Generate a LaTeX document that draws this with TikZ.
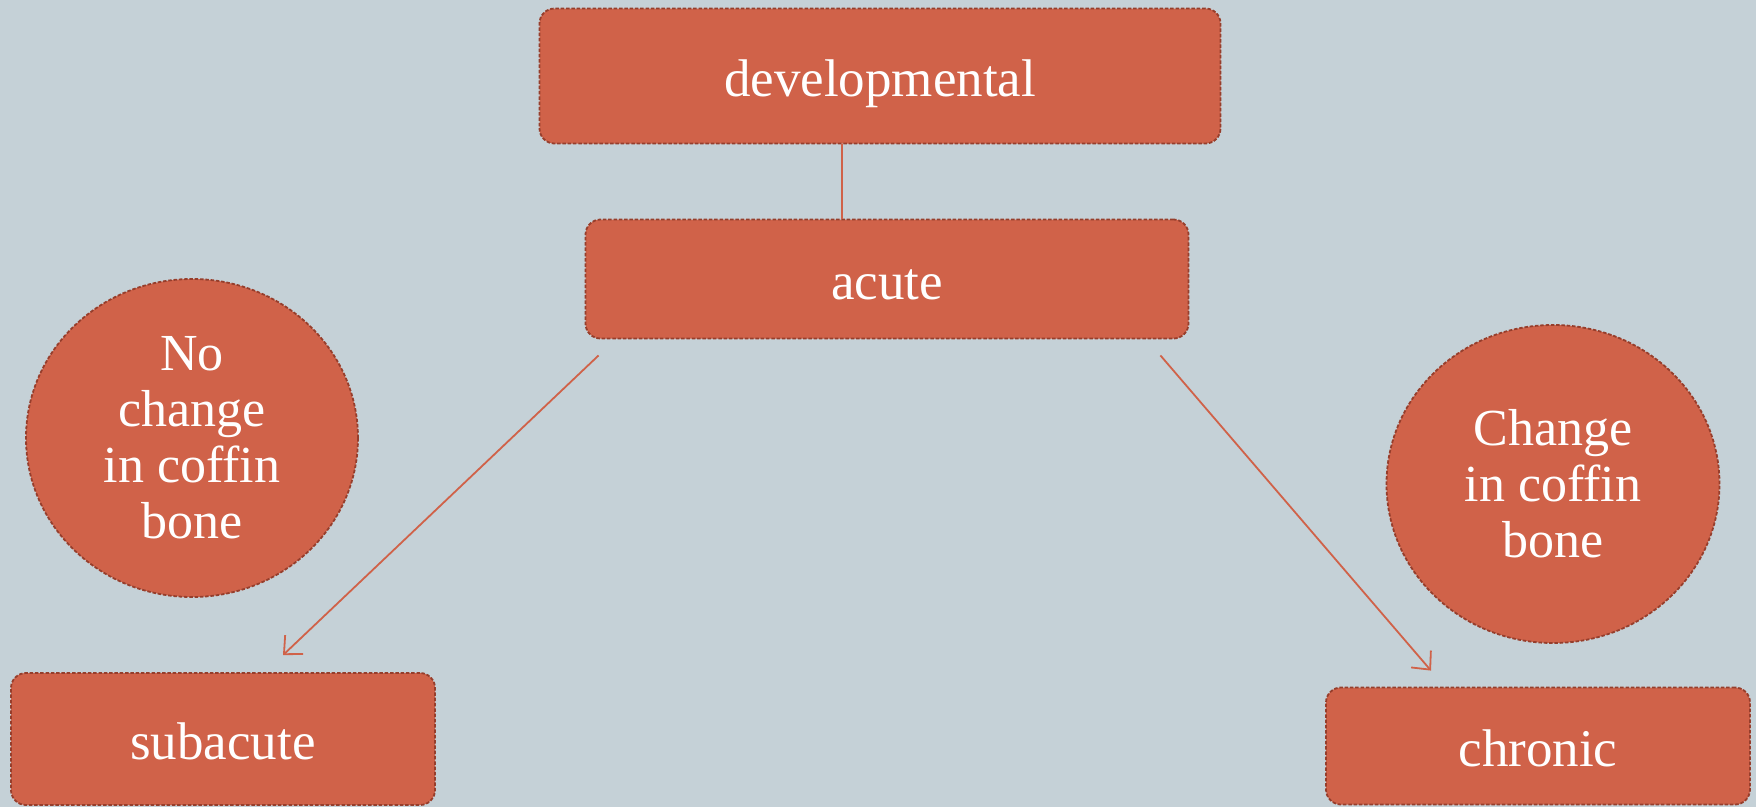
\documentclass[tikz,border=0pt]{standalone}
\usepackage{fontspec}
\setmainfont{Liberation Serif}
\usetikzlibrary{arrows.meta,shapes.geometric}
\definecolor{bgc}{RGB}{197,209,215}
\definecolor{boxfill}{RGB}{208,98,73}
\definecolor{boxline}{RGB}{150,62,44}
\tikzset{
  box/.style={rectangle, rounded corners=15pt, fill=boxfill, draw=boxline,
    line width=1.8pt, dash pattern=on 3.5pt off 1.8pt, text=white, inner sep=0pt,
    font=\fontsize{53}{56}\selectfont, align=center, text height=40pt, text depth=0pt},
  blob/.style={ellipse, fill=boxfill, draw=boxline, line width=1.8pt,
    dash pattern=on 3.5pt off 1.8pt, text=white, inner sep=0pt,
    font=\fontsize{52}{56}\selectfont, align=center},
  link/.style={draw=boxfill, line width=1.8pt},
  arr/.style={link, -{Straight Barb[length=14pt,width=26pt,line width=1.8pt]}}
}
\begin{document}
\begin{tikzpicture}[x=1pt,y=-1pt]
\fill[bgc] (0,0) rectangle (1756,807);
\useasboundingbox (0,0) rectangle (1756,807);
\node[box, minimum width=681pt, minimum height=135pt] (dev) at (880,76) {developmental};
\node[box, minimum width=603pt, minimum height=119pt] (acute) at (887,279) {acute};
\node[box, minimum width=424pt, minimum height=132pt] (sub) at (223,739) {subacute};
\node[box, minimum width=424pt, minimum height=117pt] (chr) at (1538,746) {chronic};
\node[blob, minimum width=332pt, minimum height=318pt] (nochg) at (192,438) {No\\change\\in coffin\\bone};
\node[blob, minimum width=333pt, minimum height=318pt] (chg) at (1553,484) {Change\\in coffin\\bone};
\draw[link] (dev.south -| 842,0) -- (acute.north -| 842,0);
\coordinate (aL) at ([xshift=14pt,yshift=-16pt]acute.south west);
\coordinate (aR) at ([xshift=-29pt,yshift=-16pt]acute.south east);
\coordinate (eL) at ([xshift=60pt,yshift=17pt]sub.north);
\coordinate (eR) at ([xshift=-107pt,yshift=16pt]chr.north);
\draw[arr] (aL) -- (eL);
\draw[arr] (aR) -- (eR);
\end{tikzpicture}
\end{document}
